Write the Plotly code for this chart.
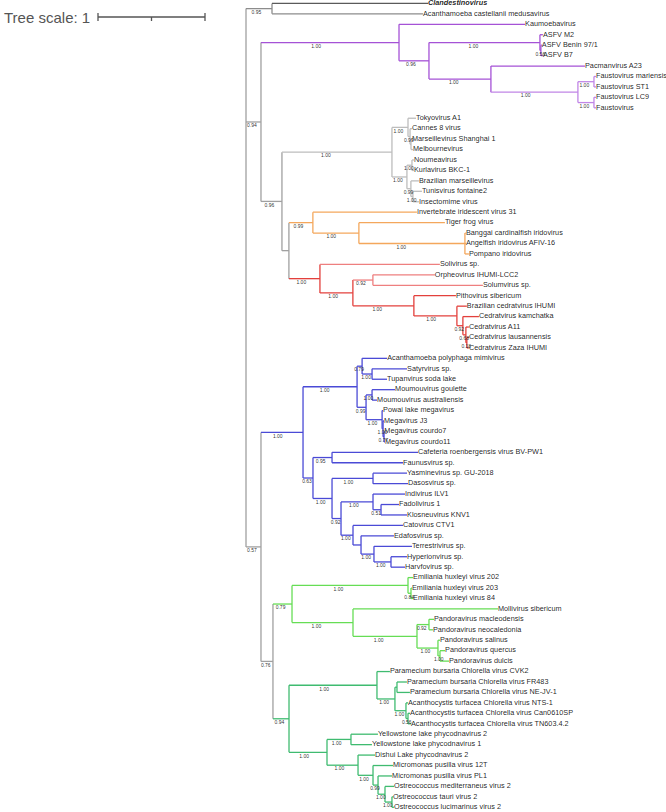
import re
import plotly.graph_objects as go

# ---------------- DATA (Newick per clade; branch lengths in tree-scale units, internal labels = support) -------------
tree_scale = 1

clade_medusa = "('Clandestinovirus':1.458,'Acanthamoeba castellanii medusavirus':1.411)0.95:0.243"

clade_asfar = ("('Kaumoebavirus':1.178,(('ASFV M2':0.028,('ASFV Benin 97/1':0.009,'ASFV B7':0.019)0.56:0.009)1.00:1.037,"
               "('Pacmanvirus A23':0.879,(('Faustovirus mariensis':0.019,'Faustovirus ST1':0.019)1.00:0.150,"
               "('Faustovirus LC9':0.019,'Faustovirus':0.019)1.00:0.150)1.00:0.813)1.00:0.579)0.96:0.280)1.00:1.290")

clade_marseille = ("(('Tokyovirus A1':0.075,('Cannes 8 virus':0.019,('Marseillevirus Shanghai 1':0.009,'Melbournevirus':0.019):0.009)0.99:0.019)1.00:0.150,"
                   "(('Noumeavirus':0.019,'Kurlavirus BKC-1':0.019)1.00:0.047,('Brazilian marseillevirus':0.075,"
                   "('Tunisvirus fontaine2':0.084,'Insectomime virus':0.056)1.00:0.019)0.99:0.037)1.00:0.140)1.00:1.028")

clade_irido = ("('Invertebrate iridescent virus 31':0.972,('Tiger frog virus':0.804,('Banggai cardinalfish iridovirus':0.009,"
               "'Angelfish iridovirus AFIV-16':0.009,'Pompano iridovirus':0.037)1.00:0.991)1.00:0.430)0.99:0.224")

clade_pitho = ("('Solivirus sp.':1.121,(('Orpheovirus IHUMI-LCC2':0.579,'Solumvirus sp.':1.028)0.92:0.187,('Pithovirus sibericum':0.393,"
               "('Brazilian cedratvirus IHUMI':0.093,('Cedratvirus kamchatka':0.150,('Cedratvirus A11':0.028,('Cedratvirus lausannensis':0.019,"
               "'Cedratvirus Zaza IHUMI':0.019)0.18:0.009)0.68:0.028)0.92:0.056)1.00:0.402)1.00:0.570)1.00:0.308)1.00:0.290")

clade_megamimi = ("(('Acanthamoeba polyphaga mimivirus':0.234,('Satyrvirus sp.':0.327,'Tupanvirus soda lake':0.140)1.00:0.093)0.79:0.047,"
                  "(('Moumouvirus goulette':0.215,'Moumouvirus australiensis':0.047)1.00:0.056,('Powai lake megavirus':0.009,"
                  "('Megavirus J3':0.009,('Megavirus courdo7':0.003,'Megavirus courdo11':0.009)0.77:0.009)1.00:0.009)1.00:0.150)0.99:0.084)1.00:0.505")

clade_klosneu = ("(('Cafeteria roenbergensis virus BV-PW1':0.804,'Faunusvirus sp.':0.664)0.95:0.178,(('Yasminevirus sp. GU-2018':0.318,"
                 "'Dasosvirus sp.':0.327)1.00:0.383,(('Indivirus ILV1':0.299,('Fadolivirus 1':0.168,'Klosneuvirus KNV1':0.243)0.51:0.075)1.00:0.299,"
                 "('Catovirus CTV1':0.467,('Edafosvirus sp.':0.308,('Terrestrivirus sp.':0.355,('Hyperionvirus sp.':0.150,"
                 "'Harvfovirus sp.':0.131)1.00:0.159)1.00:0.121):0.075)1.00:0.112)0.92:0.084)1.00:0.178)0.63:0.093")

clade_pandora = ("(('Emiliania huxleyi virus 202':0.047,('Emiliania huxleyi virus 203':0.009,'Emiliania huxleyi virus 84':0.019)0.84:0.028)1.00:1.084,"
                 "('Mollivirus sibericum':1.355,(('Pandoravirus macleodensis':0.047,'Pandoravirus neocaledonia':0.037)0.92:0.112,"
                 "('Pandoravirus salinus':0.019,('Pandoravirus quercus':0.047,'Pandoravirus dulcis':0.084)1.00:0.019)1.00:0.196)1.00:0.598)1.00:0.570)0.79:0.178")

clade_phycodna = ("(('Paramecium bursaria Chlorella virus CVK2':0.121,(('Paramecium bursaria Chlorella virus FR483':0.093,"
                  "'Paramecium bursaria Chlorella virus NE-JV-1':0.121):0.019,('Acanthocystis turfacea Chlorella virus NTS-1':0.019,"
                  "('Acanthocystis turfacea Chlorella virus Can0610SP':0.019,'Acanthocystis turfacea Chlorella virus TN603.4.2':0.028)0.56:0.019)1.00:0.103)1.00:0.168)1.00:0.822,"
                  "(('Yellowstone lake phycodnavirus 2':0.252,'Yellowstone lake phycodnavirus 1':0.196)1.00:0.224,('Dishui Lake phycodnavirus 2':0.159,"
                  "('Micromonas pusilla virus 12T':0.187,('Micromonas pusilla virus PL1':0.131,('Ostreococcus mediterraneus virus 2':0.084,"
                  "('Ostreococcus tauri virus 2':0.009,'Ostreococcus lucimarinus virus 2':0.019)1.00:0.065)1.00:0.065)0.99:0.047)1.00:0.140)1.00:0.290)1.00:0.355)0.94:0.150")

backbone = ("({medusa},({asfar},({marseille},({irido},{pitho}):0.065)0.96:0.196)0.94:0.140,"
            "(({megamimi},{klosneu})1.00:0.393,({pandora},{phycodna})0.76:0.112)0.57:0.140);")

# clade colours: (first leaf, last leaf) -> colour of their MRCA subtree (applied in order)
clade_colors = [
    ("Clandestinovirus", "Acanthamoeba castellanii medusavirus", "#8c8c8c"),
    ("Clandestinovirus", "Clandestinovirus", "#5a5a5a"),
    ("Kaumoebavirus", "Faustovirus", "#a552d6"),
    ("Faustovirus mariensis", "Faustovirus", "#c086e6"),
    ("Tokyovirus A1", "Insectomime virus", "#bdbdbd"),
    ("Invertebrate iridescent virus 31", "Pompano iridovirus", "#f4a75c"),
    ("Solivirus sp.", "Cedratvirus Zaza IHUMI", "#e3403c"),
    ("Solivirus sp.", "Solivirus sp.", "#ee7f7f"),
    ("Orpheovirus IHUMI-LCC2", "Solumvirus sp.", "#ee7f7f"),
    ("Acanthamoeba polyphaga mimivirus", "Harvfovirus sp.", "#4a4ad6"),
    ("Emiliania huxleyi virus 202", "Pandoravirus dulcis", "#66dd55"),
    ("Paramecium bursaria Chlorella virus CVK2", "Ostreococcus lucimarinus virus 2", "#3fbb70"),
]
bold_leaves = ["Clandestinovirus"]

# ---------------- LAYOUT CONSTANTS (pixels) ----------------
W, H = 666, 812
ROOT_PX = 246.0
PX_PER_UNIT = 107.0
TOP_PX = 3.4
ROW_PX = 10.44
BACKBONE_COLOR = "#a0a0a0"
FONT = "Liberation Sans, Arial, sans-serif"


def parse_newick(s):
    pos = 0

    def node():
        nonlocal pos
        n = {"children": [], "name": None, "support": None, "length": 0.0, "parent": None}
        if s[pos] == "(":
            pos += 1
            while True:
                c = node()
                c["parent"] = n
                n["children"].append(c)
                if s[pos] == ",":
                    pos += 1
                    continue
                if s[pos] == ")":
                    pos += 1
                    break
        if pos < len(s) and s[pos] == "'":
            end = s.index("'", pos + 1)
            n["name"] = s[pos + 1:end]
            pos = end + 1
        else:
            m = re.match(r"[0-9.]+", s[pos:])
            if m:
                n["support"] = m.group(0)
                pos += len(m.group(0))
        if pos < len(s) and s[pos] == ":":
            pos += 1
            m = re.match(r"[0-9.eE+-]+", s[pos:])
            n["length"] = float(m.group(0))
            pos += len(m.group(0))
        return n

    return node()


tree = parse_newick(backbone.format(medusa=clade_medusa, asfar=clade_asfar, marseille=clade_marseille,
                                    irido=clade_irido, pitho=clade_pitho, megamimi=clade_megamimi,
                                    klosneu=clade_klosneu, pandora=clade_pandora, phycodna=clade_phycodna))

leaves, nodes = [], []


def lay(n, depth):
    n["x"] = depth
    n["color"] = BACKBONE_COLOR
    nodes.append(n)
    if not n["children"]:
        n["y"] = len(leaves)
        leaves.append(n)
    else:
        for c in n["children"]:
            lay(c, depth + c["length"])
        n["y"] = (n["children"][0]["y"] + n["children"][-1]["y"]) / 2.0


lay(tree, 0.0)
leaf_by_name = {l["name"]: l for l in leaves}


def ancestors(n):
    out = []
    while n is not None:
        out.append(n)
        n = n["parent"]
    return out


def mrca(a, b):
    A = ancestors(leaf_by_name[a])
    Bset = set(id(x) for x in ancestors(leaf_by_name[b]))
    for x in A:
        if id(x) in Bset:
            return x


def paint(n, col):
    n["color"] = col
    for c in n["children"]:
        paint(c, col)


for a, b, col in clade_colors:
    paint(mrca(a, b), col)

# ---------------- SEGMENTS ----------------
segs = {}
for n in nodes:
    col = n["color"]
    d = segs.setdefault(col, ([], []))
    if n["parent"] is not None:
        d[0].extend([n["parent"]["x"], n["x"], None])
        d[1].extend([n["y"], n["y"], None])
    if n["children"]:
        d[0].extend([n["x"], n["x"], None])
        d[1].extend([n["children"][0]["y"], n["children"][-1]["y"], None])

fig = go.Figure()
for col, (xs, ys) in segs.items():
    fig.add_trace(go.Scatter(x=xs, y=ys, mode="lines", line=dict(color=col, width=1.3),
                             hoverinfo="skip", showlegend=False, cliponaxis=False))

# leaf labels
fig.add_trace(go.Scatter(
    x=[l["x"] for l in leaves], y=[l["y"] for l in leaves], mode="text",
    text=[("<b><i>%s</i></b>" % l["name"]) if l["name"] in bold_leaves else l["name"] for l in leaves],
    textposition="middle right", textfont=dict(size=7.3, color="rgba(25,25,25,0.97)", family=FONT),
    hoverinfo="skip", showlegend=False, cliponaxis=False))

# support labels
sx, sy, st = [], [], []
for n in nodes:
    if n["parent"] is not None and n["support"]:
        px = n["parent"]["x"]
        sx.append(px + 0.4 * (n["x"] - px))
        sy.append(n["y"] + 4.0 / ROW_PX)
        st.append(n["support"])
fig.add_trace(go.Scatter(x=sx, y=sy, text=st, mode="text", textposition="middle center",
                         textfont=dict(size=5, color="rgba(40,40,40,0.97)", family=FONT),
                         hoverinfo="skip", showlegend=False, cliponaxis=False))

# scale bar
bar_x0 = (98 - ROOT_PX) / PX_PER_UNIT
bar_x1 = bar_x0 + tree_scale
bar_y = 1 - 17.0 / H
tick = 4.0 / H
fig.add_shape(type="line", xref="x", yref="paper", x0=bar_x0, x1=bar_x1, y0=bar_y, y1=bar_y,
              line=dict(color="#555555", width=1.3))
for xv, t in [(bar_x0, tick), (bar_x1, tick), ((bar_x0 + bar_x1) / 2, 0)]:
    fig.add_shape(type="line", xref="x", yref="paper", x0=xv, x1=xv, y0=bar_y - tick, y1=bar_y + t,
                  line=dict(color="#555555", width=1.3))
fig.add_annotation(x=0.003, y=bar_y, xref="paper", yref="paper", text="Tree scale: %g" % tree_scale,
                   showarrow=False, xanchor="left", yanchor="middle",
                   font=dict(size=15, color="#555555", family=FONT))

fig.update_layout(
    width=W, height=H, margin=dict(l=0, r=0, t=0, b=0),
    paper_bgcolor="white", plot_bgcolor="white",
    xaxis=dict(range=[-ROOT_PX / PX_PER_UNIT, (W - ROOT_PX) / PX_PER_UNIT], visible=False, fixedrange=True),
    yaxis=dict(range=[(H - TOP_PX) / ROW_PX, -TOP_PX / ROW_PX], visible=False, fixedrange=True),
)
fig.write_html("out.html", config={"displayModeBar": False},
               post_script="document.body.style.margin='0';document.body.style.overflow='hidden';")
